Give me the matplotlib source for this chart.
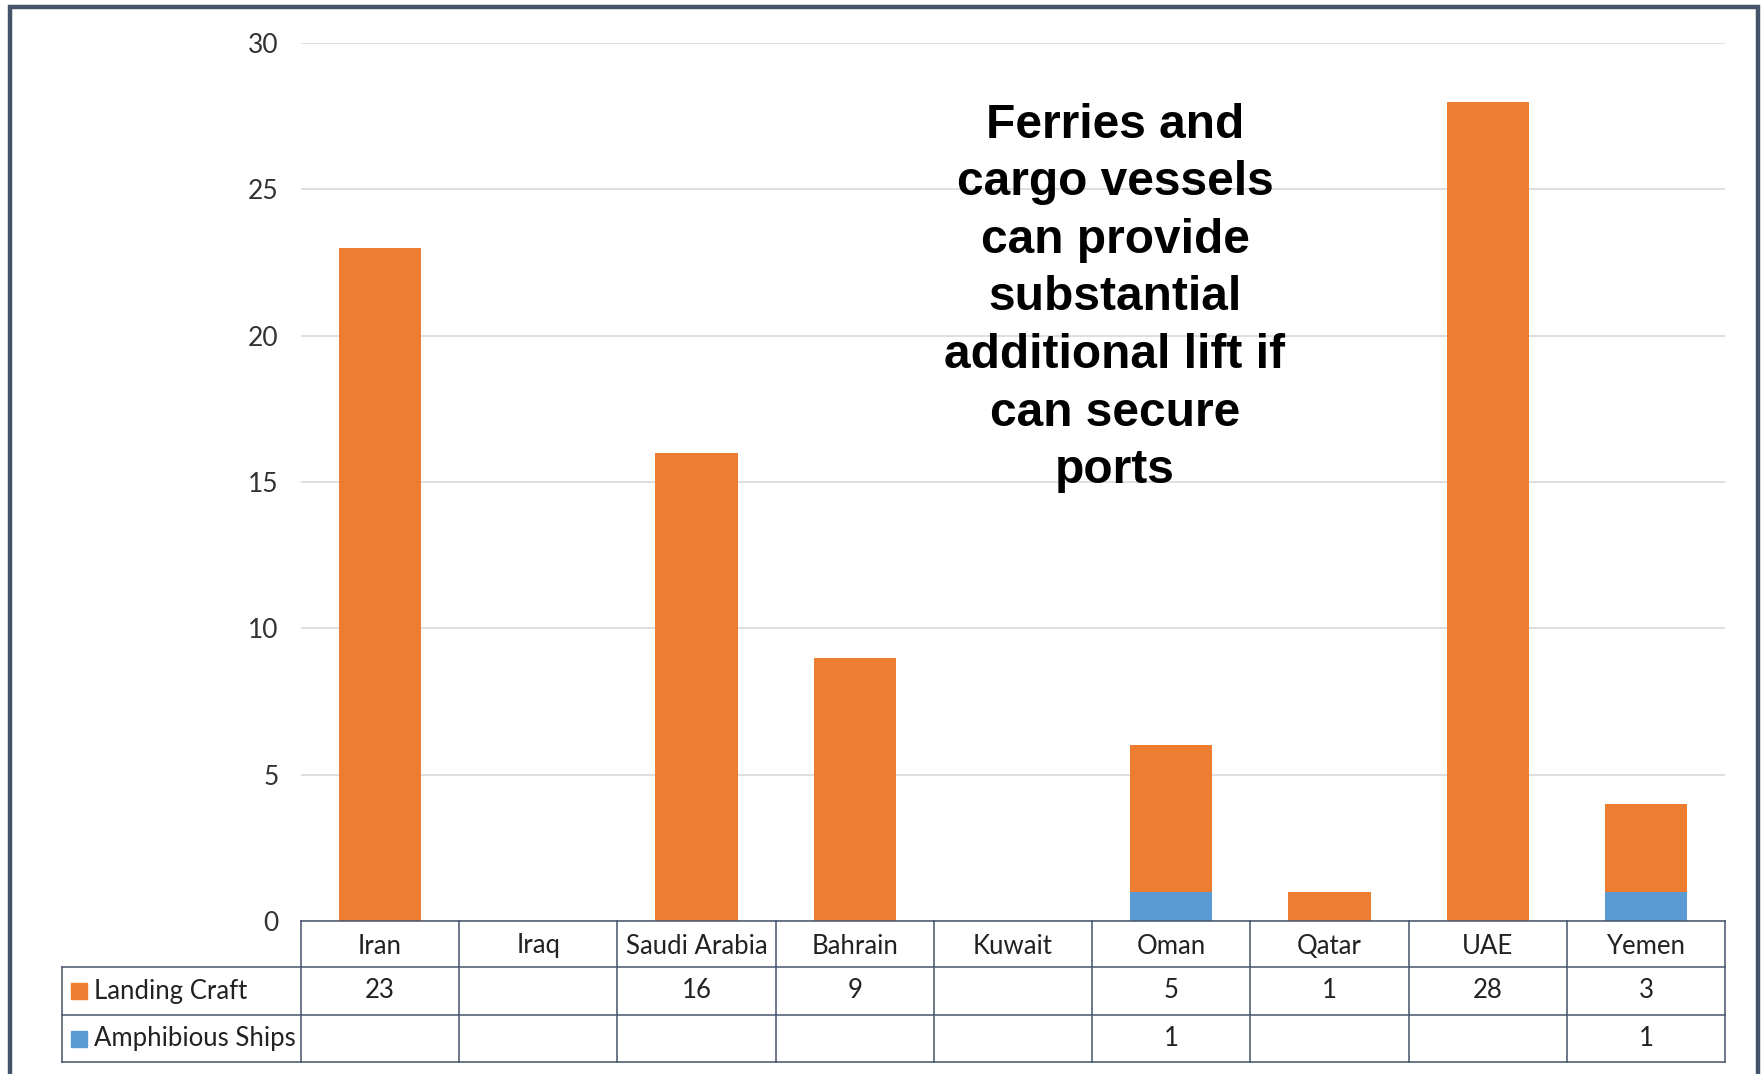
import matplotlib.pyplot as plt
from matplotlib.patches import Rectangle
from matplotlib.transforms import blended_transform_factory

categories = ['Iran', 'Iraq', 'Saudi Arabia', 'Bahrain', 'Kuwait', 'Oman', 'Qatar', 'UAE', 'Yemen']
landing_craft = [23, None, 16, 9, None, 5, 1, 28, 3]
amphibious_ships = [None, None, None, None, None, 1, None, None, 1]
series_names = ['Landing Craft', 'Amphibious Ships']

note = ('Ferries and\ncargo vessels\ncan provide\nsubstantial\n'
        'additional lift if\ncan secure\nports')

orange = '#ED7D31'
blue = '#5B9BD5'
line_col = '#44546A'
font = 'Lato'
fs = 18.5

W, H = 1764, 1074
fig = plt.figure(figsize=(W / 100, H / 100), dpi=100)

# axes placed in pixel terms
ax_l, ax_r, ax_t, ax_b = 301, 1725, 43, 921
ax = fig.add_axes([ax_l / W, 1 - ax_b / H, (ax_r - ax_l) / W, (ax_b - ax_t) / H])

x = list(range(len(categories)))
amph = [v or 0 for v in amphibious_ships]
land = [v or 0 for v in landing_craft]

ax.bar(x, amph, width=0.52, color=blue, zorder=3)
ax.bar(x, land, width=0.52, bottom=amph, color=orange, zorder=3)

ax.set_xlim(-0.5, len(categories) - 0.5)
ax.set_ylim(0, 30)
ax.set_yticks(range(0, 31, 5))
ax.set_xticks([])
ax.tick_params(axis='y', length=0, pad=16, labelsize=19, labelcolor='#333333')
for lab in ax.get_yticklabels():
    lab.set_fontfamily(font)
ax.grid(axis='y', color='#D9D9D9', lw=1.2, zorder=0)
for s in ax.spines.values():
    s.set_visible(False)

# data table under the axes
ax_h = ax_b - ax_t
def ry(px):
    return (ax_b - px) / ax_h

rows = [921, 967, 1015, 1062]
label_left = (62 - ax_l) / (ax_r - ax_l)
bt = blended_transform_factory(ax.transData, ax.transAxes)
at = ax.transAxes
lkw = dict(color=line_col, lw=1.1, clip_on=False, zorder=5)

ax.plot([0, 1], [ry(rows[0])] * 2, transform=at, **lkw)
for r in rows[1:]:
    ax.plot([label_left, 1], [ry(r)] * 2, transform=at, **lkw)
ax.plot([label_left] * 2, [ry(rows[1]), ry(rows[3])], transform=at, **lkw)
for b in range(len(categories) + 1):
    ax.plot([b - 0.5] * 2, [ry(rows[0]), ry(rows[3])], transform=bt, **lkw)

tkw = dict(ha='center', va='center', fontsize=fs, family=font, color='#222222')
for i, c in enumerate(categories):
    ax.text(i, ry((rows[0] + rows[1]) / 2 + 2), c, transform=bt, **tkw)
    if landing_craft[i] is not None:
        ax.text(i, ry((rows[1] + rows[2]) / 2), str(landing_craft[i]), transform=bt, **tkw)
    if amphibious_ships[i] is not None:
        ax.text(i, ry((rows[2] + rows[3]) / 2), str(amphibious_ships[i]), transform=bt, **tkw)

# row labels with colour keys
key_w = 16 / (ax_r - ax_l)
key_h = 16 / ax_h
for k, (name, col) in enumerate(zip(series_names, [orange, blue])):
    yc = ry((rows[k + 1] + rows[k + 2]) / 2)
    ax.add_patch(Rectangle(((71 - ax_l) / (ax_r - ax_l), yc - key_h / 2), key_w, key_h,
                           transform=at, color=col, clip_on=False, zorder=5))
    ax.text((94 - ax_l) / (ax_r - ax_l), yc, name, transform=at, ha='left', va='center',
            fontsize=fs, family=font, color='#222222')

ax.text((1115 - ax_l) / (ax_r - ax_l), ry(298), note, transform=at, ha='center', va='center',
        fontsize=34.5, fontweight='bold', family='Liberation Sans', linespacing=1.36, zorder=6)

# outer frame
fig.patches.append(Rectangle((10 / W, -0.05), (1758 - 10) / W, 1.05 - 7 / H,
                             transform=fig.transFigure, fill=False, ec=line_col, lw=3.2))

fig.savefig('out.png', dpi=100, facecolor='white')
